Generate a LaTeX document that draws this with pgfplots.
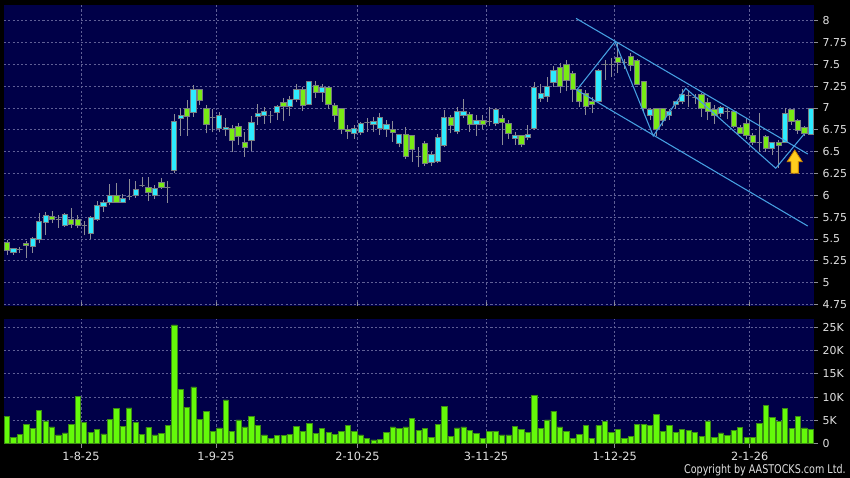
\documentclass[border=0pt]{standalone}
\usepackage{pgfplots}
\pgfplotsset{compat=1.18}
\usepackage{pgfplotstable}
\usetikzlibrary{backgrounds,calc}
\usepackage{fontspec}
\setmainfont{DejaVu Sans}
\newfontfamily\cfont{DejaVu Sans}[FakeStretch=0.8]
\definecolor{navy}{RGB}{0,0,72}
\definecolor{gridc}{RGB}{95,95,150}
\definecolor{cyanc}{RGB}{45,235,255}
\definecolor{greenc}{RGB}{120,235,20}
\definecolor{volc}{RGB}{100,250,10}
\definecolor{volb}{RGB}{60,140,20}
\definecolor{wickc}{RGB}{140,140,150}
\definecolor{bodyb}{RGB}{120,125,130}
\definecolor{trendc}{RGB}{70,160,225}
\definecolor{txt}{RGB}{225,225,225}
\definecolor{arrowf}{RGB}{255,205,30}
\definecolor{arrowd}{RGB}{200,130,0}

\pgfplotstableread{
i o h l c v
0 5.465 5.49 5.32 5.365 5.9
1 5.34 5.40 5.32 5.39 1.4
2 5.38 5.41 5.34 5.38 2.0
3 5.45 5.48 5.28 5.43 4.2
4 5.41 5.52 5.34 5.50 3.3
5 5.49 5.80 5.45 5.70 7.2
6 5.69 5.81 5.545 5.77 4.9
7 5.76 5.82 5.68 5.72 3.6
8 5.72 5.78 5.63 5.72 1.9
9 5.65 5.80 5.64 5.78 2.3
10 5.725 5.855 5.62 5.67 4.1
11 5.725 5.77 5.62 5.66 10.2
12 5.66 5.70 5.545 5.66 4.5
13 5.56 5.76 5.50 5.75 2.5
14 5.72 5.93 5.71 5.885 3.1
15 5.87 5.946 5.81 5.92 2.1
16 5.92 6.13 5.89 6.00 5.3
17 6.00 6.14 5.91 5.92 7.5
18 5.92 6.015 5.91 5.96 3.7
19 5.99 6.19 5.946 5.99 7.7
20 6.00 6.16 5.97 6.07 4.5
21 6.11 6.21 6.10 6.11 2.0
22 6.09 6.21 5.93 6.035 3.5
23 6.00 6.12 5.955 6.08 1.9
24 6.15 6.195 6.07 6.09 2.2
25 6.09 6.16 5.915 6.09 3.9
26 6.29 6.93 6.25 6.85 25.5
27 6.88 7.00 6.68 6.91 11.7
28 7.00 7.09 6.68 6.90 7.8
29 6.95 7.26 6.90 7.21 12.2
30 7.21 7.21 7.03 7.09 5.2
31 7.00 7.04 6.71 6.815 6.9
32 6.89 6.985 6.72 6.89 2.7
33 6.765 6.95 6.72 6.91 3.4
34 6.755 6.89 6.68 6.78 9.4
35 6.77 6.81 6.50 6.63 2.6
36 6.79 6.825 6.575 6.675 5.1
37 6.61 6.72 6.44 6.545 3.6
38 6.625 6.905 6.51 6.836 5.9
39 6.90 7.045 6.81 6.94 3.9
40 6.92 7.01 6.82 6.965 1.9
41 6.92 6.965 6.825 6.92 1.2
42 6.95 7.03 6.86 7.015 1.8
43 7.065 7.11 6.855 7.02 1.8
44 7.015 7.14 6.91 7.10 2.0
45 7.10 7.28 7.07 7.21 3.7
46 7.21 7.24 6.97 7.03 2.7
47 7.035 7.31 7.03 7.30 4.4
48 7.255 7.31 7.12 7.18 2.2
49 7.18 7.28 7.07 7.24 3.2
50 7.24 7.255 6.985 7.035 2.4
51 7.03 7.055 6.845 6.91 2.0
52 7.00 7.00 6.70 6.755 2.6
53 6.755 6.81 6.65 6.73 4.0
54 6.71 6.805 6.65 6.77 2.7
55 6.72 6.845 6.69 6.82 1.9
56 6.835 6.88 6.73 6.835 1.2
57 6.81 6.90 6.73 6.85 0.8
58 6.76 6.94 6.69 6.89 0.9
59 6.755 6.86 6.67 6.81 2.5
60 6.755 6.85 6.61 6.72 3.6
61 6.59 6.70 6.55 6.70 3.2
62 6.70 6.78 6.42 6.44 3.6
63 6.68 6.69 6.385 6.53 5.5
64 6.45 6.55 6.32 6.45 2.9
65 6.59 6.62 6.34 6.36 3.3
66 6.38 6.50 6.34 6.47 1.4
67 6.385 6.70 6.37 6.665 4.2
68 6.57 6.98 6.55 6.89 8.0
69 6.89 6.92 6.71 6.80 1.6
70 6.73 7.015 6.70 6.965 3.4
71 6.92 7.10 6.88 6.965 3.6
72 6.93 6.95 6.73 6.81 2.8
73 6.81 6.92 6.68 6.855 2.2
74 6.855 6.92 6.76 6.81 1.2
75 6.85 7.015 6.79 6.85 2.6
76 6.825 7.00 6.79 6.98 2.7
77 6.88 6.92 6.58 6.83 1.9
78 6.825 6.86 6.65 6.71 1.9
79 6.65 6.73 6.58 6.69 3.8
80 6.69 6.69 6.55 6.585 3.1
81 6.665 6.805 6.63 6.70 2.5
82 6.76 7.30 6.75 7.24 10.4
83 7.11 7.27 7.07 7.17 3.2
84 7.13 7.35 7.07 7.25 5.1
85 7.29 7.48 7.24 7.435 7.0
86 7.47 7.51 7.17 7.25 3.6
87 7.50 7.55 7.19 7.32 2.7
88 7.39 7.42 7.07 7.21 1.1
89 7.21 7.21 7.015 7.08 2.0
90 7.17 7.21 6.92 7.015 3.9
91 7.08 7.13 6.94 7.045 1.2
92 7.08 7.45 7.07 7.43 3.9
93 7.50 7.55 7.32 7.50 4.8
94 7.50 7.57 7.36 7.50 2.4
95 7.576 7.76 7.40 7.52 3.1
96 7.52 7.56 7.45 7.52 1.1
97 7.595 7.63 7.42 7.49 1.6
98 7.54 7.56 7.26 7.275 4.2
99 7.30 7.31 6.96 7.00 4.2
100 6.92 7.00 6.86 6.985 3.9
101 7.00 7.00 6.68 6.75 6.3
102 6.99 7.00 6.79 6.855 2.7
103 6.92 6.985 6.86 6.965 3.9
104 7.035 7.08 6.99 7.075 2.5
105 7.07 7.22 7.05 7.15 3.0
106 7.14 7.21 7.015 7.14 2.9
107 7.12 7.16 7.05 7.12 2.5
108 7.15 7.17 6.90 6.99 1.5
109 7.06 7.11 6.86 6.96 4.9
110 6.98 7.03 6.82 6.91 1.4
111 6.94 7.02 6.90 7.01 2.3
112 6.96 7.00 6.87 6.96 1.8
113 6.96 6.98 6.77 6.79 2.9
114 6.775 6.80 6.70 6.71 3.5
115 6.825 6.88 6.65 6.69 1.3
116 6.68 6.71 6.58 6.60 1.4
117 6.60 6.94 6.50 6.60 4.4
118 6.67 6.69 6.50 6.54 8.2
119 6.54 6.61 6.46 6.60 5.7
120 6.61 6.63 6.31 6.575 4.8
121 6.60 7.00 6.60 6.94 7.6
122 6.985 6.99 6.81 6.845 3.2
123 6.855 6.87 6.70 6.74 5.9
124 6.775 6.79 6.68 6.71 3.4
125 6.70 7.00 6.69 6.99 3.1
}\ohlc

\newcommand\drawcandles{%
\pgfplotsforeachungrouped \r in {0,...,125}{%
 \pgfplotstablegetelem{\r}{i}\of\ohlc \let\ci\pgfplotsretval
 \pgfplotstablegetelem{\r}{o}\of\ohlc \let\co\pgfplotsretval
 \pgfplotstablegetelem{\r}{h}\of\ohlc \let\ch\pgfplotsretval
 \pgfplotstablegetelem{\r}{l}\of\ohlc \let\cl\pgfplotsretval
 \pgfplotstablegetelem{\r}{c}\of\ohlc \let\cc\pgfplotsretval
 \pgfmathsetmacro\xa{\ci-0.41}%
 \pgfmathsetmacro\xb{\ci+0.41}%
 \pgfmathtruncatemacro\kind{ifthenelse(\cc>\co,1,ifthenelse(\cc<\co,2,0))}%
 \ifcase\kind \def\bc{none}\or \def\bc{cyanc}\or \def\bc{greenc}\fi
 \edef\cmd{\noexpand\addplot[wickc, line width=0.75pt] coordinates {(\ci,\cl) (\ci,\ch)};
  \noexpand\addplot[draw=bodyb, line width=0.7pt, fill=\bc] coordinates {(\xa,\co) (\xb,\co) (\xb,\cc) (\xa,\cc)} --cycle;}%
 \cmd
}}

\pgfplotsset{
 chartbase/.style={
  scale only axis, width=607.5pt,
  xmin=-0.47, xmax=125.5,
  axis background/.style={fill=navy},
  axis line style={draw=none},
  grid=major,
  grid style={gridc, line width=0.6pt, dash pattern=on 1.6pt off 1.6pt},
  tick style={wickc, line width=0.6pt},
  major tick length=3pt,
  ytick pos=right, yticklabel pos=right, ytick align=outside,
  xtick pos=left,
  xtick={11.5,32.5,54.5,74.5,94.5,115.5},
  tick label style={text=txt},
  yticklabel style={font=\fontsize{8.2}{10}\selectfont},
  xticklabel style={font=\fontsize{8.5}{10}\selectfont},
 }
}

\begin{document}
\begin{tikzpicture}

\begin{axis}[chartbase,
 at={(0pt,0pt)}, anchor=south west, height=225.75pt,
 ymin=4.732, ymax=8.18,
 xtick align=inside, xticklabels={},
 ytick={4.75,5,5.25,5.5,5.75,6,6.25,6.5,6.75,7,7.25,7.5,7.75,8},
 yticklabels={4.75,5,5.25,5.5,5.75,6,6.25,6.5,6.75,7,7.25,7.5,7.75,8},
]
\coordinate (TSW) at (rel axis cs:0,0);
\drawcandles
\addplot[trendc, line width=0.8pt] coordinates {(88.49,8.027) (124.53,6.473)};
\addplot[trendc, line width=0.8pt] coordinates {(88.6,7.206) (124.53,5.648)};
\addplot[trendc, line width=0.8pt] coordinates {(88.6,7.206) (94.56,7.76) (100.5,6.68) (105.55,7.226) (119.55,6.31) (123.95,6.70)};
\addplot[fill=arrowf, draw=arrowd, line width=0.6pt] coordinates {(122.5,6.519) (123.67,6.385) (123.07,6.385) (123.07,6.253) (121.93,6.253) (121.93,6.385) (121.33,6.385)} --cycle;
\end{axis}

\begin{axis}[chartbase,
 at={($(TSW)+(0pt,-103.275pt)$)}, anchor=south west, height=93.5pt,
 ymin=0, ymax=26.78,
 xtick align=outside,
 xticklabels={1-8-25,1-9-25,2-10-25,3-11-25,1-12-25,2-1-26},
 ytick={0,5,10,15,20,25},
 yticklabels={0,5K,10K,15K,20K,25K},
]
\coordinate (VSW) at (rel axis cs:0,0);
\addplot[ybar, bar width=0.82, fill=volc, draw=volb, line width=0.5pt] table[x=i,y=v] {\ohlc};
\end{axis}

\node[anchor=base east, inner sep=0, text=txt, font=\cfont\fontsize{9}{10}\selectfont] at ($(TSW)+(631.5pt,-125.6pt)$) {Copyright by AASTOCKS.com Ltd.};
\begin{pgfonlayer}{background}
\fill[black] ($(TSW)+(-3pt,-129pt)$) rectangle ++(637.5pt,358.5pt);
\end{pgfonlayer}
\pgfresetboundingbox
\path[use as bounding box] ($(TSW)+(-3pt,-129pt)$) rectangle ++(637.5pt,358.5pt);
\end{tikzpicture}
\end{document}
